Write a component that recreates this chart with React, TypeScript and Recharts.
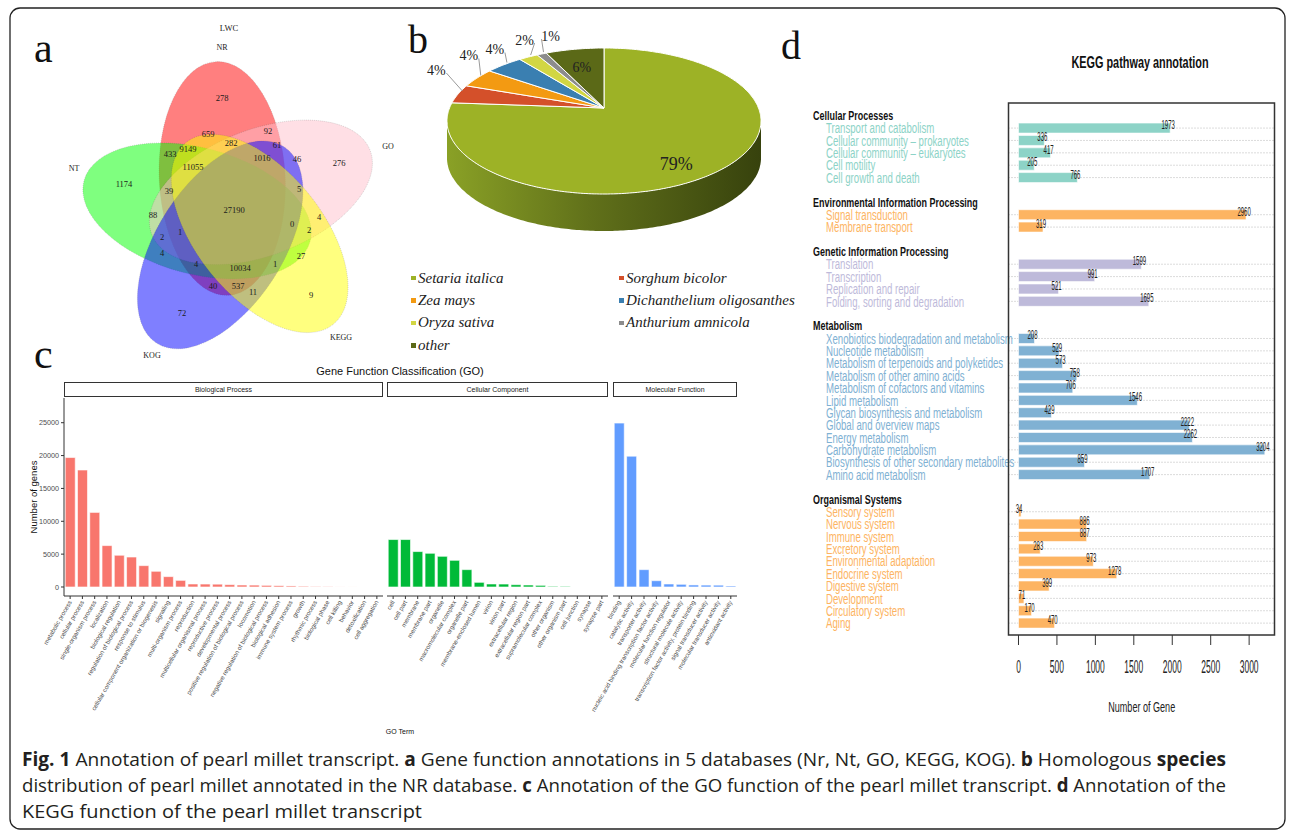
import React from "react";
import {
	Bar,
	BarChart,
	Cell,
	LabelList,
	Legend,
	Pie,
	PieChart,
	Scatter,
	ScatterChart,
	XAxis,
	YAxis,
} from "recharts";

const SERIF = "'Liberation Serif', 'DejaVu Serif', serif";
const SANS = "'Liberation Sans', Arial, sans-serif";
const CAPTION = "'Open Sans', 'Noto Sans', sans-serif";

// ---- a: Venn (5 databases) ----
const vennSets = ["NR", "GO", "KEGG", "KOG", "NT"];
const vennColors = ["#ff0000", "#ffc0cb", "#ffff00", "#0000ff", "#00ff00"];
const vennDrawOrder = [0, 4, 1, 3, 2];
const vennCounts = [
	278, 659, 92, 282, 61, 433, 9149, 1016, 46, 276, 11055, 1174, 39, 5, 27190, 88, 4, 0, 2, 2, 1, 4, 27, 4,
	10034, 1, 40, 537, 11, 9, 72,
];
// where each count sits inside its region (page px)
const vennSpots = [
	[222, 98], [208, 134], [268, 131], [231, 143], [277, 145], [170, 154], [188, 149], [262, 158], [297, 159],
	[339, 163], [193, 167], [124, 184], [169, 191], [299, 189], [234, 210], [153, 215], [319, 217], [292, 224],
	[309, 230], [162, 237], [180, 232], [162, 253], [301, 256], [196, 264], [240, 268], [275, 264], [213, 286],
	[238, 286], [253, 292], [311, 295], [182, 313],
];
const vennNameSpots = [[222, 47], [388, 146], [341, 337], [152, 355], [74, 168]];

// ---- b: species pie ----
const species = [
	"Setaria italica",
	"Sorghum bicolor",
	"Zea mays",
	"Dichanthelium oligosanthes",
	"Oryza sativa",
	"Anthurium amnicola",
	"other",
];
const speciesShare = [79, 4, 4, 4, 2, 1, 6];
const speciesColors = ["#9db226", "#d4502a", "#f39a12", "#3a7fb1", "#d2d643", "#8c8c8c", "#5b6917"];
const pieLabelNudge = [null, [-26, -21], [-12, -20], [-12, -13], [-6, -15], [7, -16], null];

// ---- c: GO classification ----
const bpTerms = [
	"metabolic process", "cellular process", "single-organism process", "localization", "biological regulation",
	"regulation of biological process", "response to stimulus", "cellular component organization or biogenesis",
	"signaling", "multi-organism process", "reproduction", "multicellular organismal process",
	"reproductive process", "developmental process", "positive regulation of biological process", "locomotion",
	"negative regulation of biological process", "biological adhesion", "immune system process", "growth",
	"rhythmic process", "biological phase", "cell killing", "behavior", "detoxification", "cell aggregation",
];
const bpGenes = [
	19700, 17800, 11350, 6300, 4830, 4560, 3250, 2390, 1580, 1010, 460, 450, 430, 360, 300, 290, 250, 200, 160, 110,
	70, 45, 8, 5, 3, 2,
];
const ccTerms = [
	"cell", "cell part", "membrane", "membrane part", "organelle", "macromolecular complex", "organelle part",
	"membrane-enclosed lumen", "virion", "virion part", "extracellular region", "extracellular region part",
	"supramolecular complex", "other organism", "other organism part", "cell junction", "synapse", "synapse part",
];
const ccGenes = [7220, 7220, 5390, 5130, 4670, 4060, 2640, 710, 460, 450, 350, 300, 250, 100, 90, 6, 4, 3];
const mfTerms = [
	"binding", "catalytic activity", "transporter activity", "nucleic acid binding transcription factor activity",
	"molecular function regulator", "structural molecule activity", "transcription factor activity, protein binding",
	"signal transducer activity", "molecular transducer activity", "antioxidant activity",
];
const mfGenes = [24940, 19910, 2640, 960, 460, 410, 310, 290, 280, 150];
const goTicks = [0, 5000, 10000, 15000, 20000, 25000];

// ---- d: KEGG pathways ----
const keggGroups = [
	"Cellular Processes",
	"Environmental Information Processing",
	"Genetic Information Processing",
	"Metabolism",
	"Organismal Systems",
];
const keggColors = ["#8dd3c7", "#fdb462", "#bebada", "#80b1d3", "#fdb462"];
const cellularPathways = [
	"Transport and catabolism", "Cellular community \u2013 prokaryotes", "Cellular community \u2013 eukaryotes",
	"Cell motility", "Cell growth and death",
];
const cellularCounts = [1973, 336, 417, 205, 766];
const environmentalPathways = ["Signal transduction", "Membrane transport"];
const environmentalCounts = [2960, 319];
const geneticPathways = ["Translation", "Transcription", "Replication and repair", "Folding, sorting and degradation"];
const geneticCounts = [1599, 991, 521, 1695];
const metabolismPathways = [
	"Xenobiotics biodegradation and metabolism", "Nucleotide metabolism", "Metabolism of terpenoids and polyketides",
	"Metabolism of other amino acids", "Metabolism of cofactors and vitamins", "Lipid metabolism",
	"Glycan biosynthesis and metabolism", "Global and overview maps", "Energy metabolism", "Carbohydrate metabolism",
	"Biosynthesis of other secondary metabolites", "Amino acid metabolism",
];
const metabolismCounts = [208, 529, 573, 758, 706, 1546, 429, 2222, 2262, 3204, 859, 1707];
const organismalPathways = [
	"Sensory system", "Nervous system", "Immune system", "Excretory system", "Environmental adaptation",
	"Endocrine system", "Digestive system", "Development", "Circulatory system", "Aging",
];
const organismalCounts = [34, 886, 887, 283, 973, 1278, 399, 71, 170, 470];
const keggTicks = [0, 500, 1000, 1500, 2000, 2500, 3000];

const keggPathways = [cellularPathways, environmentalPathways, geneticPathways, metabolismPathways, organismalPathways];
const keggCounts = [cellularCounts, environmentalCounts, geneticCounts, metabolismCounts, organismalCounts];

const keggRows: any[] = [];
keggGroups.forEach((group, g) => {
	if (g > 0) keggRows.push({ key: `gap${g}`, kind: "gap", value: null });
	keggRows.push({ key: `head${g}`, kind: "head", label: group, value: null });
	keggPathways[g].forEach((name, i) => {
		keggRows.push({ key: `${g}-${i}`, kind: "item", label: name, value: keggCounts[g][i], color: keggColors[g] });
	});
});
const keggRowByKey: any = Object.fromEntries(keggRows.map((r) => [r.key, r]));

// ---------- Venn ----------
const vennEllipses = vennDrawOrder.map((k) => {
	const phi = -93 + 72 * k;
	const t = (phi * Math.PI) / 180;
	const u = [Math.cos(t), Math.sin(t)];
	const w = [u[1], -u[0]];
	return { x: 232 + 34 * u[0] + 8 * w[0], y: 212 + 34 * u[1] + 8 * w[1], rot: phi + 90, fill: vennColors[k] };
});
const vennLabels = [
	...vennCounts.map((n, i) => ({ x: vennSpots[i][0], y: vennSpots[i][1], text: String(n), size: 8.5 })),
	...vennSets.map((s, i) => ({ x: vennNameSpots[i][0], y: vennNameSpots[i][1], text: s, size: 8 })),
	{ x: 229, y: 28, text: "LWC", size: 8.5 },
];

const EllipseShape = (p: any) => (
	<ellipse
		cx={p.cx}
		cy={p.cy}
		rx={63}
		ry={117}
		transform={`rotate(${p.payload.rot} ${p.cx} ${p.cy})`}
		fill={p.payload.fill}
		fillOpacity={0.5}
		stroke="#555"
		strokeOpacity={0.35}
		strokeWidth={0.6}
		strokeDasharray="1 1"
	/>
);

const VennText = (p: any) => (
	<text
		x={p.cx}
		y={p.cy}
		textAnchor="middle"
		dominantBaseline="central"
		fontFamily={SERIF}
		fontSize={p.payload.size}
		fill="#1a1a1a"
	>
		{p.payload.text}
	</text>
);

const VennPanel = () => (
	<div style={{ position: "absolute", left: 20, top: 20 }}>
		<ScatterChart width={400} height={345} margin={{ top: 0, right: 0, bottom: 0, left: 0 }}>
			<XAxis type="number" dataKey="x" domain={[20, 420]} hide />
			<YAxis type="number" dataKey="y" domain={[20, 365]} reversed hide />
			<Scatter data={vennEllipses} shape={EllipseShape} isAnimationActive={false} />
			<Scatter data={vennLabels} shape={VennText} isAnimationActive={false} />
		</ScatterChart>
	</div>
);

// ---------- Pie (pseudo 3D) ----------
const TILT = 0.465;
const DEPTH = 37;
const APEX = -13;

const ellipsePt = (cx: number, cy: number, r: number, deg: number, dy = 0) => {
	const t = (deg * Math.PI) / 180;
	return [cx + r * Math.cos(t), cy - r * TILT * Math.sin(t) + dy];
};
const sweep = (cx: number, cy: number, r: number, a: number, b: number, dy = 0) => {
	const n = Math.max(2, Math.ceil(Math.abs(b - a)));
	return Array.from({ length: n + 1 }, (_, i) => ellipsePt(cx, cy, r, a + ((b - a) * i) / n, dy));
};
const toPath = (pts: number[][]) =>
	pts.map((p, i) => `${i ? "L" : "M"}${p[0].toFixed(1)},${p[1].toFixed(1)}`).join("") + "Z";

const renderSlice = (props: any) => {
	const { cx, cy, outerRadius: r, startAngle, endAngle, midAngle, index } = props;
	const lo = Math.min(startAngle, endAngle);
	const hi = Math.max(startAngle, endAngle);
	const walls: number[][] = [];
	for (const k of [-360, 0, 360]) {
		const a = Math.max(lo, -180 + k);
		const b = Math.min(hi, k);
		if (b > a) walls.push([a, b]);
	}
	const color = speciesColors[index];
	const pct = `${speciesShare[index]}%`;
	const nudge = pieLabelNudge[index];
	let label;
	if (!nudge) {
		const [tx, ty] = ellipsePt(cx, cy, r * 0.75, midAngle);
		label = (
			<text x={tx} y={ty} textAnchor="middle" dominantBaseline="central" fontFamily={SERIF} fontSize={index === 0 ? 18 : 14} fill="#222">
				{pct}
			</text>
		);
	} else {
		const [ex, ey] = ellipsePt(cx, cy, r * 0.97, midAngle, APEX * 0.3);
		const tx = ex + nudge[0];
		const ty = ey + nudge[1];
		const lx = nudge[0] > 0 ? tx - 9 : tx + 10;
		label = (
			<g>
				<polyline points={`${lx},${ty + 3} ${ex},${ey}`} fill="none" stroke="#9a9a9a" strokeWidth={1} />
				<text x={tx} y={ty} textAnchor="middle" dominantBaseline="central" fontFamily={SERIF} fontSize={14} fill="#222">
					{pct}
				</text>
			</g>
		);
	}
	return (
		<g key={`slice-${index}`}>
			<defs>
				<linearGradient id={`pieSide${index}`} gradientUnits="userSpaceOnUse" x1={cx - r} x2={cx + r} y1={0} y2={0}>
					<stop offset="0%" stopColor="#8aa126" />
					<stop offset="45%" stopColor="#61711a" />
					<stop offset="100%" stopColor="#37420d" />
				</linearGradient>
			</defs>
			{walls.map(([a, b]) => (
				<path
					key={`w${a}`}
					d={toPath([...sweep(cx, cy, r, a, b, 0), ...sweep(cx, cy, r, b, a, DEPTH)])}
					fill={`url(#pieSide${index})`}
				/>
			))}
			<path
				d={toPath([[cx, cy + APEX], ...sweep(cx, cy, r, startAngle, endAngle, 0)])}
				fill={color}
				stroke="#ffffff"
				strokeWidth={1}
				strokeLinejoin="round"
			/>
			{label}
		</g>
	);
};

const renderSpeciesLegend = () => (
	<div
		style={{
			display: "grid",
			gridTemplateColumns: "208px 180px",
			paddingLeft: 11,
			fontFamily: SERIF,
			fontStyle: "italic",
			fontSize: 15,
			color: "#222",
		}}
	>
		{species.map((s, i) => (
			<div key={s} style={{ display: "flex", alignItems: "center", height: 22.4, whiteSpace: "nowrap" }}>
				<span style={{ width: 4.5, height: 4.5, background: speciesColors[i], marginRight: 2.5, display: "inline-block" }} />
				<span>{s}</span>
			</div>
		))}
	</div>
);

const piePanel = species.map((name, i) => ({ name, share: speciesShare[i] }));

const SpeciesPanel = () => (
	<div style={{ position: "absolute", left: 400, top: 20 }}>
		<PieChart width={390} height={345} margin={{ top: 0, right: 0, bottom: 0, left: 0 }}>
			<Pie
				data={piePanel}
				dataKey="share"
				nameKey="name"
				cx={204}
				cy={101}
				outerRadius={157}
				startAngle={90}
				endAngle={-270}
				fill="transparent"
				stroke="none"
				label={renderSlice}
				labelLine={false}
				isAnimationActive={false}
			/>
			<Legend content={renderSpeciesLegend} wrapperStyle={{ top: 247, left: 0, width: 390 }} />
		</PieChart>
	</div>
);

// ---------- GO facets ----------
const GO_DOMAIN = [-1370, 28760];

const GoTick = ({ x, y, payload }: any) => (
	<text
		x={x}
		y={y}
		dy="0.35em"
		transform={`rotate(-60 ${x} ${y})`}
		textAnchor="end"
		fontSize={6.2}
		fontFamily={SANS}
		fill="#4d4d4d"
	>
		{payload.value}
	</text>
);

// plotLeft/plotWidth are the panel's page position; spare is room left of it for slanted labels
const GoFacet = ({ terms, genes, color, plotLeft, plotWidth, spare, showY, title }: any) => {
	const data = terms.map((term: string, i: number) => ({ term, genes: genes[i] }));
	return (
		<>
			<div
				style={{
					position: "absolute",
					left: plotLeft,
					top: 382,
					width: plotWidth,
					height: 15,
					border: "1px solid #333",
					boxSizing: "border-box",
					background: "#fff",
					fontFamily: SANS,
					fontSize: 7,
					color: "#1a1a1a",
					textAlign: "center",
					lineHeight: "13px",
				}}
			>
				{title}
			</div>
			<div style={{ position: "absolute", left: plotLeft - spare, top: 398 }}>
				<BarChart
					width={plotWidth + spare}
					height={330}
					data={data}
					margin={{ top: 0, right: 0, bottom: 0, left: showY ? 0 : spare }}
					barCategoryGap="10%"
				>
					<XAxis
						dataKey="term"
						interval={0}
						tick={GoTick}
						tickSize={3}
						height={132}
						axisLine={{ stroke: "#333" }}
						tickLine={{ stroke: "#333" }}
					/>
					<YAxis
						hide={!showY}
						width={spare}
						domain={GO_DOMAIN}
						ticks={goTicks}
						allowDataOverflow
						tickSize={3}
						tick={{ fontSize: 7.2, fill: "#4d4d4d", fontFamily: SANS }}
						axisLine={{ stroke: "#333" }}
						tickLine={{ stroke: "#333" }}
					/>
					<Bar dataKey="genes" fill={color} stroke="#ffffff" strokeWidth={0.6} isAnimationActive={false} />
				</BarChart>
			</div>
		</>
	);
};

// ---------- KEGG ----------
const KeggTick = ({ y, payload }: any) => {
	const row = keggRowByKey[payload.value];
	if (!row || row.kind === "gap") return <g />;
	if (row.kind === "head") {
		return (
			<text transform={`translate(13 ${y + 4}) scale(0.69 1)`} fontSize={13} fontWeight="bold" fontFamily={SANS} fill="#111">
				{row.label}
			</text>
		);
	}
	return (
		<text transform={`translate(26 ${y + 5}) scale(0.665 1)`} fontSize={14.5} fontFamily={SANS} fill={row.color}>
			{row.label}
		</text>
	);
};

const KeggNumberTick = ({ x, y, payload }: any) => (
	<text transform={`translate(${x} ${y + 28}) scale(0.48 1)`} textAnchor="middle" fontSize={17.7} fontFamily={SANS} fill="#222">
		{payload.value}
	</text>
);

const keggValueLabel = (p: any) => {
	const { x, y, width, height, value } = p;
	if (value == null) return null;
	return (
		<text
			transform={`translate(${x + width - 2} ${y + height / 2 + 1}) scale(0.5 1)`}
			textAnchor="middle"
			fontSize={12}
			fontFamily={SANS}
			fill="#222"
		>
			{value}
		</text>
	);
};

const keggGuide = (p: any) => {
	const row = p.payload ?? keggRows[p.index];
	if (!row || row.kind !== "item") return <g key={`bg-${p.index}`} />;
	const cy = p.y + p.height / 2;
	return (
		<line
			key={`bg-${p.index}`}
			x1={p.x}
			x2={p.x + p.width}
			y1={cy}
			y2={cy}
			stroke="#b8b8b8"
			strokeDasharray="1 2"
			strokeWidth={1}
		/>
	);
};

const KeggPanel = () => (
	<div style={{ position: "absolute", left: 800, top: 103 }}>
		<BarChart
			layout="vertical"
			width={484}
			height={612}
			data={keggRows}
			margin={{ top: 0, right: 9.5, bottom: 0, left: 0 }}
		>
			<XAxis
				type="number"
				domain={[-130, 3330]}
				ticks={keggTicks}
				allowDataOverflow
				axisLine={false}
				tickSize={10}
				tickMargin={0}
				tickLine={{ stroke: "#333" }}
				tick={KeggNumberTick}
				height={80}
			/>
			<YAxis
				type="category"
				dataKey="key"
				width={208.5}
				interval={0}
				tick={KeggTick}
				tickLine={false}
				axisLine={false}
				padding={{ top: 6.7, bottom: 5.5 }}
			/>
			<Bar dataKey="value" barSize={10} stroke="#ffffff" strokeWidth={0.6} background={keggGuide} isAnimationActive={false}>
				{keggRows.map((row) => (
					<Cell key={row.key} fill={row.color ?? "none"} />
				))}
				<LabelList dataKey="value" content={keggValueLabel} />
			</Bar>
		</BarChart>
	</div>
);

// ---------- page text ----------
const Overlay = () => (
	<svg width={1292} height={833} style={{ position: "absolute", left: 0, top: 0, pointerEvents: "none" }}>
		<rect x={10} y={8} width={1275} height={821} rx={10} fill="none" stroke="#222" strokeWidth={1.3} />
		<g fontFamily={SERIF} fill="#111">
			<text x={34} y={62} fontSize={42}>a</text>
			<text x={408} y={53} fontSize={40}>b</text>
			<text x={34} y={368} fontSize={42}>c</text>
			<text x={781} y={59} fontSize={40}>d</text>
		</g>
		<text x={400} y={375} textAnchor="middle" fontFamily={SANS} fontSize={11} fill="#111">
			Gene Function Classification (GO)
		</text>
		<text
			x={33}
			y={497}
			transform="rotate(-90 33 497)"
			textAnchor="middle"
			dominantBaseline="central"
			fontFamily={SANS}
			fontSize={9.5}
			fill="#111"
		>
			Number of genes
		</text>
		<text x={400} y={734} textAnchor="middle" fontFamily={SANS} fontSize={7} fill="#111">
			GO Term
		</text>
		<text transform="translate(1140 68) scale(0.64 1)" textAnchor="middle" fontFamily={SANS} fontWeight="bold" fontSize={17} fill="#111">
			KEGG pathway annotation
		</text>
		<rect x={1008.5} y={103} width={266} height={532} fill="none" stroke="#333" strokeWidth={1.5} />
		<text transform="translate(1141.7 712) scale(0.63 1)" textAnchor="middle" fontFamily={SANS} fontSize={14.4} fill="#222">
			Number of Gene
		</text>
		<g fontFamily={CAPTION} fontSize={19} fill="#231f20">
			<text x={22} y={766} textLength={1204} lengthAdjust="spacingAndGlyphs">
				<tspan fontWeight="bold">Fig. 1</tspan> Annotation of pearl millet transcript. <tspan fontWeight="bold">a</tspan> Gene
				function annotations in 5 databases (Nr, Nt, GO, KEGG, KOG). <tspan fontWeight="bold">b</tspan> Homologous{" "}
				<tspan fontWeight="bold">species</tspan>
			</text>
			<text x={22} y={792} textLength={1204} lengthAdjust="spacingAndGlyphs">
				distribution of pearl millet annotated in the NR database. <tspan fontWeight="bold">c</tspan> Annotation of the GO
				function of the pearl millet transcript. <tspan fontWeight="bold">d</tspan> Annotation of the
			</text>
			<text x={22} y={818} textLength={400} lengthAdjust="spacingAndGlyphs">
				KEGG function of the pearl millet transcript
			</text>
		</g>
	</svg>
);

export default function App() {
	return (
		<div style={{ position: "absolute", left: 0, top: 0, width: 1292, height: 833, background: "#fff", overflow: "hidden" }}>
			<VennPanel />
			<SpeciesPanel />
			<GoFacet terms={bpTerms} genes={bpGenes} color="#F8766D" plotLeft={64} plotWidth={319} spare={44} showY title="Biological Process" />
			<GoFacet terms={ccTerms} genes={ccGenes} color="#00BA38" plotLeft={387} plotWidth={221} spare={70} showY={false} title="Cellular Component" />
			<GoFacet terms={mfTerms} genes={mfGenes} color="#619CFF" plotLeft={613} plotWidth={124} spare={90} showY={false} title="Molecular Function" />
			<KeggPanel />
			<Overlay />
		</div>
	);
}
